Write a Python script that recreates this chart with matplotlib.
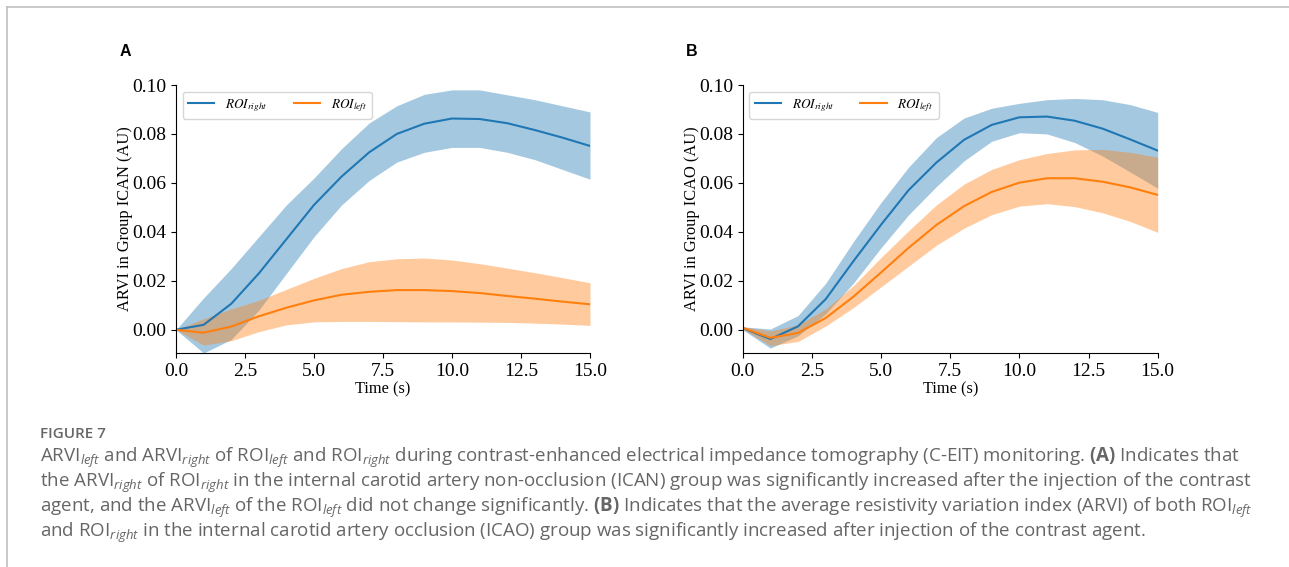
import numpy as np
import matplotlib
matplotlib.use('Agg')
import matplotlib.pyplot as plt
from matplotlib.font_manager import FontProperties
from matplotlib.lines import Line2D

# dados (ARVI por segundo)
tempo = np.arange(0, 16)

# Painel A - grupo ICAN
a_dir = [0.0, 0.002, 0.0106, 0.023, 0.037, 0.051, 0.0626, 0.0725, 0.080, 0.0842,
         0.0863, 0.0861, 0.0844, 0.0816, 0.0785, 0.0751]
a_dir_sup = [0.0, 0.013, 0.025, 0.038, 0.051, 0.062, 0.074, 0.0845, 0.0915, 0.0962,
             0.098, 0.098, 0.096, 0.094, 0.0915, 0.089]
a_dir_inf = [0.0, -0.0095, -0.004, 0.008, 0.023, 0.038, 0.051, 0.061, 0.0685, 0.0725,
             0.0745, 0.0745, 0.0725, 0.0695, 0.0655, 0.0615]
a_esq = [0.0, -0.0012, 0.0013, 0.0055, 0.009, 0.012, 0.0143, 0.0155, 0.0162, 0.0162,
         0.0158, 0.015, 0.0138, 0.0127, 0.0115, 0.0104]
a_esq_sup = [0.0, 0.0045, 0.0085, 0.012, 0.0165, 0.021, 0.025, 0.0278, 0.029, 0.0293,
             0.0285, 0.027, 0.0252, 0.0233, 0.0213, 0.0192]
a_esq_inf = [0.0, -0.0063, -0.0045, -0.0008, 0.002, 0.0032, 0.0034, 0.0034, 0.0033, 0.0032,
             0.0032, 0.0031, 0.003, 0.0027, 0.0023, 0.0018]

# Painel B - grupo ICAO
b_dir = [0.0007, -0.0038, 0.0014, 0.0125, 0.028, 0.0429, 0.0571, 0.0683, 0.0776, 0.0837,
         0.0868, 0.0871, 0.0854, 0.0822, 0.0778, 0.0732]
b_dir_sup = [0.0012, 0.0003, 0.0058, 0.019, 0.036, 0.052, 0.0665, 0.0785, 0.0865, 0.0905,
             0.0925, 0.094, 0.0945, 0.094, 0.092, 0.0888]
b_dir_inf = [0.0, -0.0075, -0.0025, 0.0065, 0.019, 0.0335, 0.047, 0.0585, 0.069, 0.077,
             0.0805, 0.080, 0.0765, 0.071, 0.0645, 0.0578]
b_esq = [0.0008, -0.0033, -0.0013, 0.0048, 0.0135, 0.0234, 0.0335, 0.0428, 0.0505, 0.0563,
         0.0601, 0.0619, 0.0619, 0.0605, 0.0582, 0.0551]
b_esq_sup = [0.0012, -0.0005, 0.002, 0.0085, 0.018, 0.0295, 0.0405, 0.051, 0.0595, 0.0655,
             0.0695, 0.072, 0.0735, 0.0737, 0.0725, 0.0705]
b_esq_inf = [0.0004, -0.0065, -0.0048, 0.0015, 0.009, 0.0175, 0.026, 0.0345, 0.0415, 0.047,
             0.0505, 0.0515, 0.0503, 0.0478, 0.0443, 0.0398]

rotulos = ['A', 'B']
ylabels = ['ARVI in Group ICAN (AU)', 'ARVI in Group ICAO (AU)']
xticks = [0.0, 2.5, 5.0, 7.5, 10.0, 12.5, 15.0]
yticks = [0.00, 0.02, 0.04, 0.06, 0.08, 0.10]

paineis = [
    (a_dir, a_dir_sup, a_dir_inf, a_esq, a_esq_sup, a_esq_inf),
    (b_dir, b_dir_sup, b_dir_inf, b_esq, b_esq_sup, b_esq_inf),
]

plt.rcParams['mathtext.fontset'] = 'stix'
plt.rcParams['mathtext.rm'] = 'Open Sans'
plt.rcParams['mathtext.it'] = 'Open Sans:italic'
plt.rcParams['mathtext.bf'] = 'Open Sans:bold'

serif = 'Liberation Serif'
azul = '#1f77b4'
laranja = '#ff7f0e'

fig = plt.figure(figsize=(12.89, 5.67), dpi=100)
W, H = 1289, 567

posicoes = [(176, 590), (742.7, 1157.7)]
for i, (dados, (x0, x1)) in enumerate(zip(paineis, posicoes)):
    d, ds, di, e, es, ei = dados
    ax = fig.add_axes([x0 / W, 1 - 353 / H, (x1 - x0) / W, (353 - 85) / H])
    ax.plot(tempo, d, color=azul, lw=1.5, label=r'$ROI_{right}$')
    ax.fill_between(tempo, di, ds, color=azul, alpha=0.4, lw=0)
    ax.plot(tempo, e, color=laranja, lw=1.5, label=r'$ROI_{left}$')
    ax.fill_between(tempo, ei, es, color=laranja, alpha=0.4, lw=0)

    ax.set_xlim(0, 15)
    ax.set_ylim(-0.0095, 0.1)
    ax.set_xticks(xticks)
    ax.set_xticklabels([f'{v:.1f}' for v in xticks], fontfamily=serif, fontsize=14)
    ax.set_yticks(yticks)
    ax.set_yticklabels([f'{v:.2f}' for v in yticks], fontfamily=serif, fontsize=14)
    ax.spines['top'].set_visible(False)
    ax.spines['right'].set_visible(False)
    ax.set_xlabel('Time (s)', fontfamily=serif, fontsize=11.75, labelpad=1)
    ax.set_ylabel(ylabels[i], fontfamily=serif, fontsize=11.75, labelpad=-0.5)
    ax.legend(loc='upper left', ncol=2,
              prop=FontProperties(family=serif, size=9.5, math_fontfamily='stix'))

    fig.text((x0 - 51) / W, 1 - 52 / H, rotulos[i], fontfamily='Liberation Sans',
             fontweight='bold', fontsize=11.5, ha='center', va='center')

# moldura
fig.add_artist(Line2D([7 / W, 7 / W], [0, 1 - 7 / H], color='#c0c0c0', lw=1.2))
fig.add_artist(Line2D([7 / W, 1], [1 - 7 / H, 1 - 7 / H], color='#c0c0c0', lw=1.2))

# legenda da figura
cinza = '#666666'
fig.text(40 / W, 1 - 438 / H, 'FIGURE 7', fontfamily='Open Sans', fontweight='semibold',
         fontsize=11, color=cinza, va='baseline')
linhas = [
    r'ARVI$_{\mathit{left}}$ and ARVI$_{\mathit{right}}$ of ROI$_{\mathit{left}}$ and ROI$_{\mathit{right}}$ '
    r'during contrast-enhanced electrical impedance tomography (C-EIT) monitoring. '
    r'$\mathbf{(A)}$ Indicates that',
    r'the ARVI$_{\mathit{right}}$ of ROI$_{\mathit{right}}$ in the internal carotid artery non-occlusion (ICAN) '
    r'group was significantly increased after the injection of the contrast',
    r'agent, and the ARVI$_{\mathit{left}}$ of the ROI$_{\mathit{left}}$ did not change significantly. '
    r'$\mathbf{(B)}$ Indicates that the average resistivity variation index (ARVI) of both ROI$_{\mathit{left}}$',
    r'and ROI$_{\mathit{right}}$ in the internal carotid artery occlusion (ICAO) group was significantly '
    r'increased after injection of the contrast agent.',
]
for k, linha in enumerate(linhas):
    fig.text(40 / W, 1 - (462 + 25 * k) / H, linha, fontfamily='Open Sans', fontsize=13.5,
             color=cinza, va='baseline', math_fontfamily='custom')

fig.savefig('out.png', dpi=100)
